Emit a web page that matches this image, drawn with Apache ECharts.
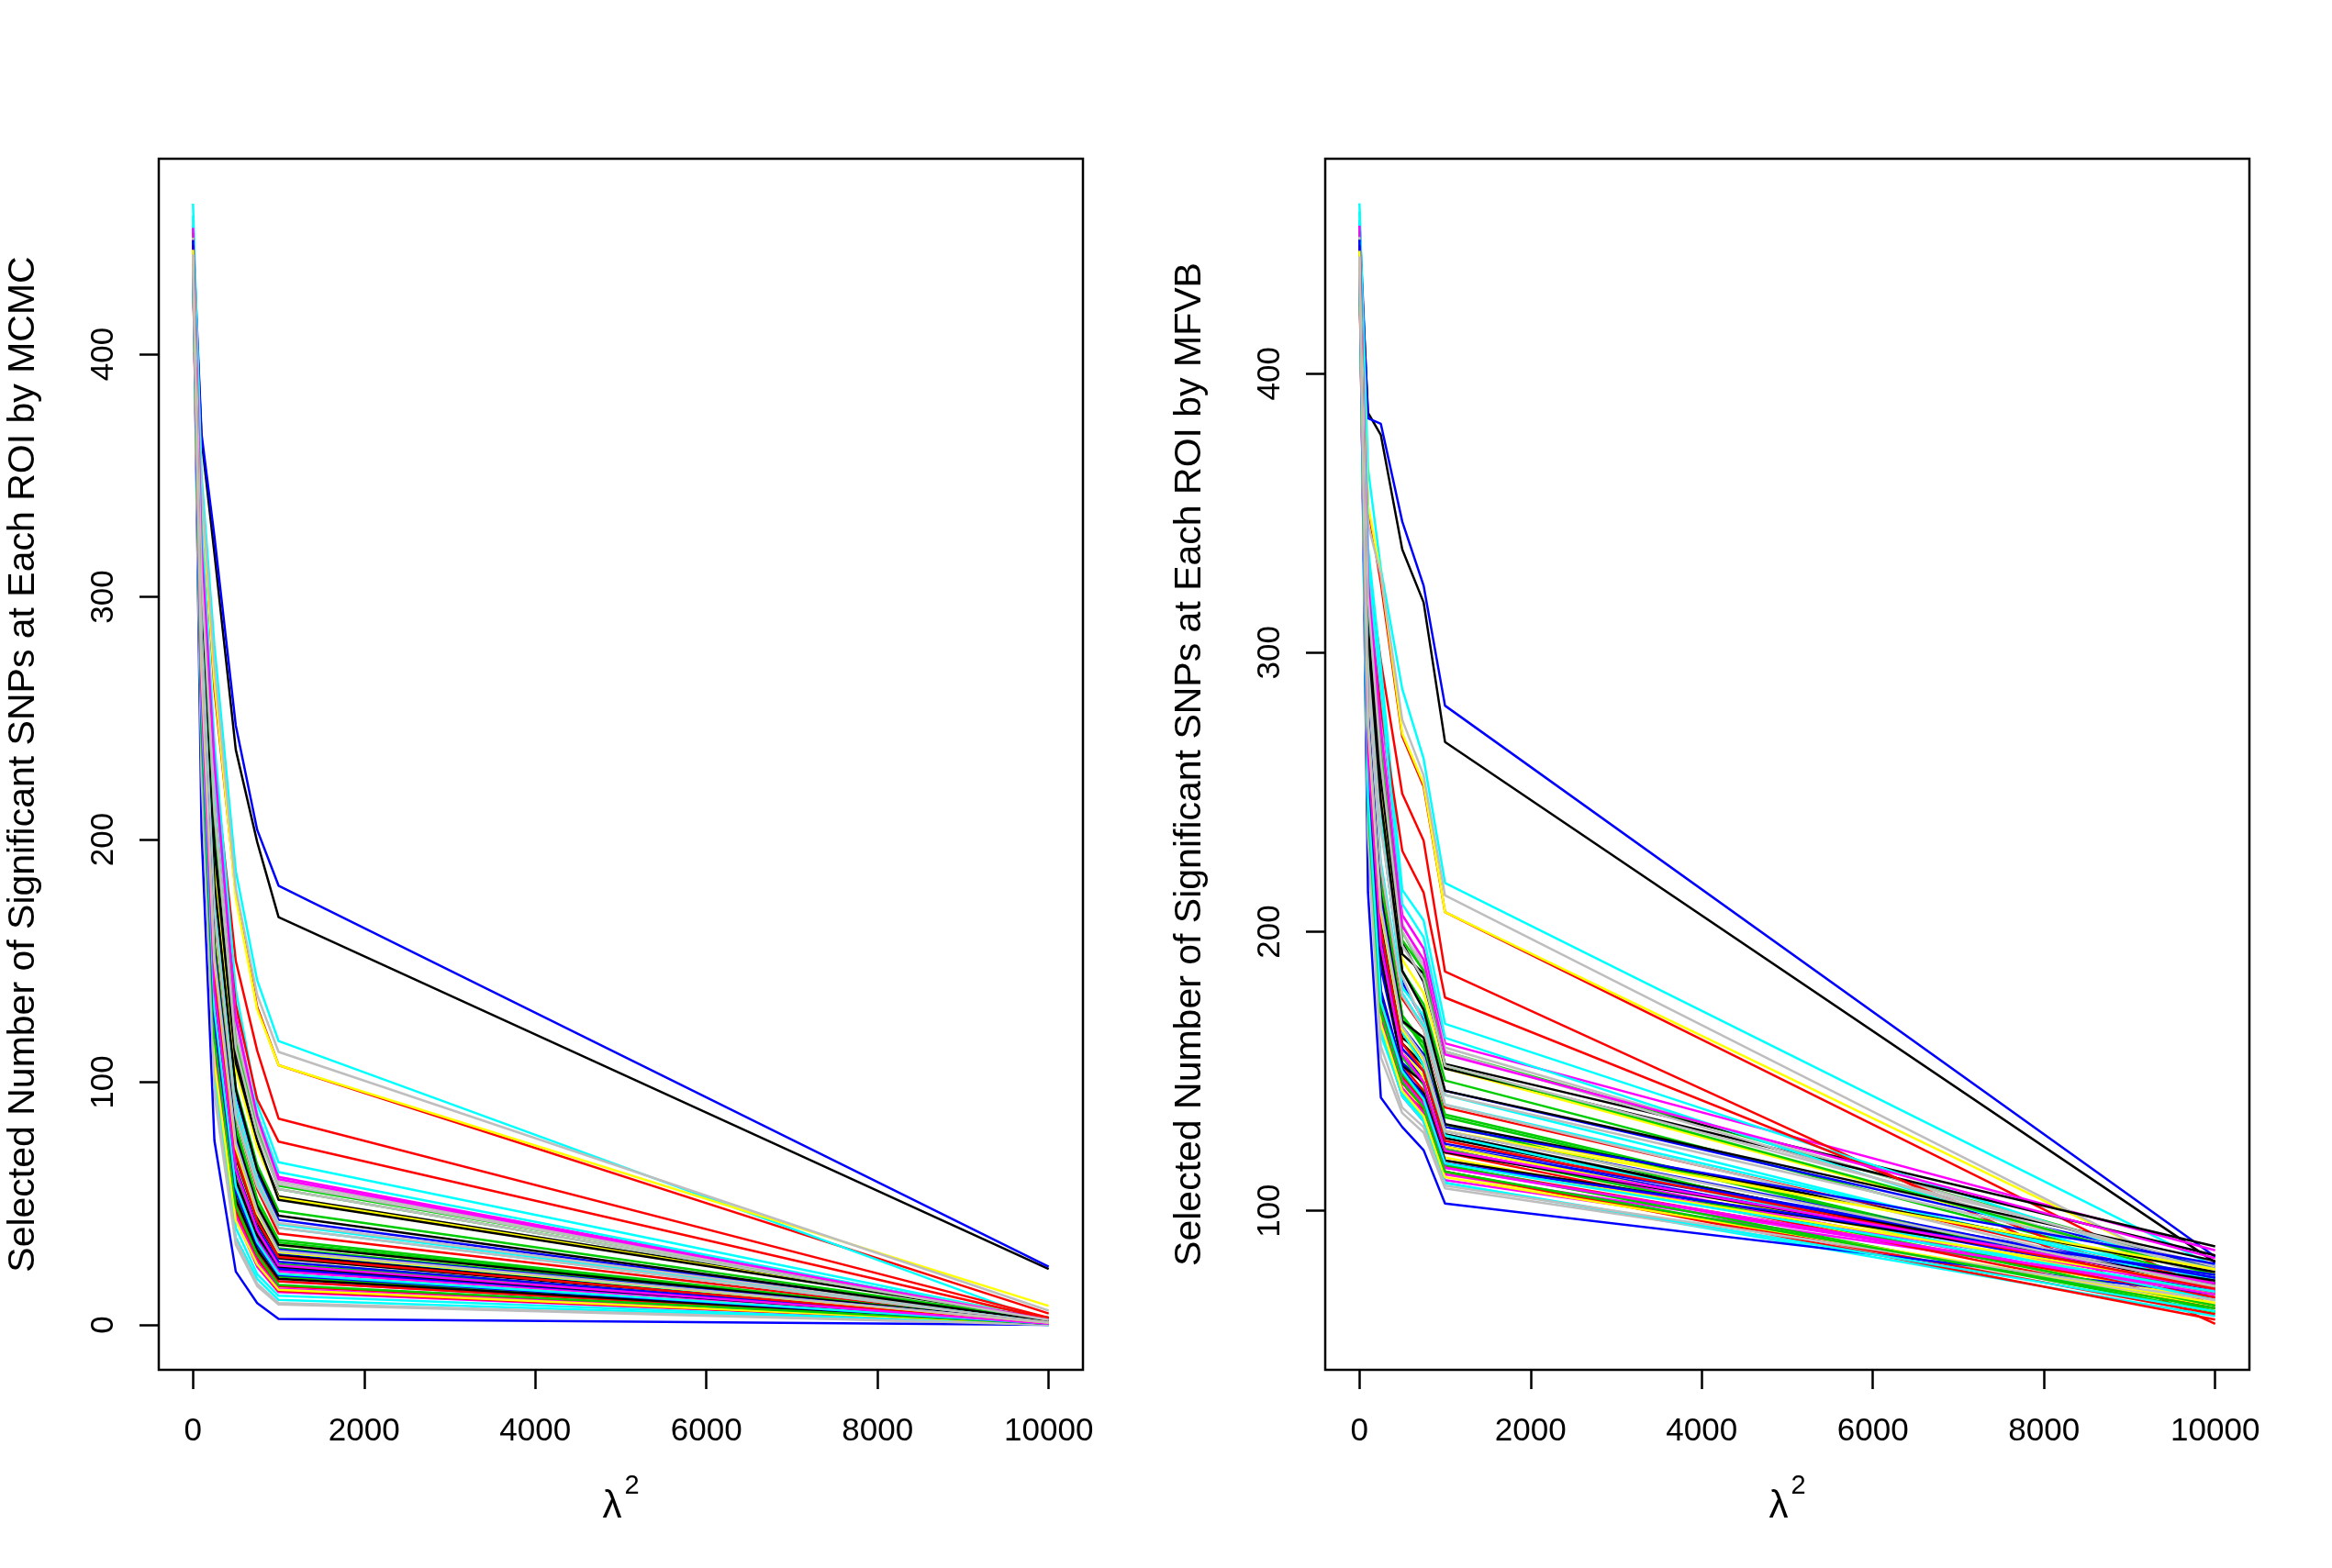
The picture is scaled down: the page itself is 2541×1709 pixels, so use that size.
<!DOCTYPE html>
<html>
<head>
<meta charset="utf-8">
<title>Selected SNPs by ROI</title>
<script src="https://cdn.jsdelivr.net/npm/echarts@6/dist/echarts.min.js"></script>
<style>
html, body { margin: 0; padding: 0; background: #fff; }
#main { width: 2541px; height: 1709px; }
</style>
</head>
<body>
<div id="main"></div>
<script>
// lambda^2 values the selection was run at
const lambda2 = [0, 100, 250, 500, 750, 1000, 10000];
const xTicks = [0, 2000, 4000, 6000, 8000, 10000];
const mcmcTicks = [0, 100, 200, 300, 400];
const mfvbTicks = [100, 200, 300, 400];
// R palette(), recycled over the ROIs
const roiColors = ['#000000', '#FF0000', '#00CD00', '#0000FF', '#00FFFF', '#FF00FF', '#FFFF00', '#BEBEBE'];

// one row per ROI: selected SNP count at each lambda2
const mcmcCounts = [
  [446, 365, 318, 237, 199, 168, 23],
  [445, 342, 262, 178, 131, 107, 4.7],
  [452, 310, 205, 120, 81, 57.4, 3],
  [450, 367, 325, 247, 204, 181, 24],
  [462, 350, 280, 187, 142, 117, 1],
  [448, 318, 228, 128, 85, 61, 2],
  [448, 340, 265, 176, 130, 107, 7.8],
  [455, 345, 272, 180, 136, 112.5, 5.9],

  [440, 305, 198, 112, 74, 53, 3],
  [440, 322, 232, 150, 113, 85, 3],
  [437, 296, 186, 98, 66, 47, 2],
  [443, 290, 178, 96, 62, 43.3, 1.5],
  [457, 330, 240, 138, 91, 67, 2],
  [444, 268, 150, 66, 40, 25, 1],
  [446, 300, 190, 105, 73, 52.4, 2.5],
  [450, 315, 222, 121, 84, 59, 2.5],

  [434, 298, 196, 108, 76, 51.5, 2.5],
  [436, 310, 215, 132, 93, 75.5, 2.5],
  [441, 282, 165, 82, 52, 35, 1],
  [446, 262, 140, 70, 45, 29.3, 1],
  [453, 322, 226, 126, 87, 63, 1.5],
  [439, 252, 122, 52, 30, 18, 0.5],
  [442, 272, 160, 78, 48, 33, 1],
  [449, 312, 215, 118, 82, 58, 2],

  [438, 270, 148, 72, 44, 28.7, 0.5],
  [446, 288, 170, 86, 56, 37.6, 1],
  [435, 266, 152, 75, 46, 31.6, 1],
  [440, 255, 130, 58, 36, 23.6, 0.5],
  [451, 292, 178, 92, 61, 41.4, 1],
  [437, 240, 112, 44, 24, 13.5, 0.5],
  [443, 248, 120, 50, 32, 19.5, 0.5],
  [447, 290, 172, 90, 60, 42, 1.5],

  [441, 262, 142, 68, 42, 27.4, 0.5],
  [438, 250, 130, 58, 35, 22.4, 0.5],
  [450, 306, 210, 116, 80, 56, 2],
  [436, 246, 126, 56, 35, 23, 0.5],
  [440, 232, 100, 36, 19, 10.3, 0],
  [452, 320, 232, 126, 86, 60, 2],
  [439, 244, 118, 48, 28, 16, 0.5],
  [442, 228, 95, 33, 16, 8.4, 0],

  [447, 294, 182, 97, 64, 45, 1.5],
  [434, 236, 110, 44, 25, 14, 0.5],
  [440, 276, 158, 80, 50, 34, 1],
  [445, 203, 76, 22, 9, 2.5, 0],
  [444, 286, 172, 88, 58, 40, 1],
  [441, 256, 132, 60, 35, 22, 0.5],
  [437, 262, 140, 66, 40, 26, 0.5],
  [448, 308, 212, 114, 79, 56, 2],

  [443, 274, 156, 78, 49, 33, 1],
  [440, 245, 122, 51, 30, 18, 0.5],
  [438, 258, 136, 63, 38, 25, 0.5],
  [442, 265, 140, 65, 40, 26, 0.5],
  [446, 270, 150, 74, 46, 30, 0.5],
  [436, 242, 116, 47, 28, 16, 0.5],
  [444, 252, 128, 56, 33, 21, 0.5],
  [445, 284, 170, 86, 57, 40, 1],

  [437, 256, 132, 60, 37, 24, 0.5],
  [443, 240, 114, 47, 27, 16, 0.5],
  [441, 250, 126, 54, 32, 20, 0.5],
  [439, 272, 154, 76, 47, 31, 1],
  [438, 234, 104, 40, 21, 12, 0],
  [445, 238, 112, 45, 26, 15, 0.5],
  [440, 236, 108, 43, 25, 14.5, 0.5],
  [436, 226, 98, 35, 17, 9, 0],

  [442, 248, 124, 52, 31, 19, 0.5],
  [445, 268, 146, 70, 43, 28, 0.5],
  [439, 244, 118, 49, 29, 16.5, 0.5],
  [447, 252, 126, 55, 33, 20.5, 0.5],
  [436, 254, 130, 57, 34, 21, 0.5],
  [440, 260, 138, 64, 39, 24.5, 0.5],
  [443, 270, 150, 73, 46, 30, 1],
  [441, 274, 152, 75, 47, 30.5, 1]
];

const mfvbCounts = [
  [450, 386, 378, 337, 318, 268, 81.5],
  [446, 352, 325, 270, 252, 207, 70],
  [447, 322, 271, 200, 186, 157, 79],
  [455, 384, 382, 347, 324, 281, 83.5],
  [461, 366, 330, 287, 262, 217.5, 80],
  [452, 328, 277, 206, 194, 160, 85.8],
  [448, 353, 328, 271, 253, 207, 74],
  [452, 346, 328, 276, 256, 213, 73.5],

  [444, 316, 263, 196, 182, 152.6, 87.2],
  [444, 330, 297, 249.5, 232.6, 185.7, 59.5],
  [440, 300, 245, 186, 174, 146.7, 75],
  [446, 298, 239, 182, 168, 143, 80],
  [458, 338, 295, 215, 204, 167, 76],
  [443, 264, 195, 158, 146, 122, 68],
  [449, 308, 253, 190, 178, 151, 77],
  [451, 330, 275, 203, 188, 158.5, 78],

  [437, 313, 255, 192, 185, 151, 84],
  [440, 320, 280, 229, 214, 176.4, 66],
  [441, 282, 220, 170, 158, 134.5, 70],
  [448, 268, 201, 165, 152, 128.6, 74],
  [455, 332, 287, 210, 198, 162, 72],
  [442, 246, 173, 146, 136, 115.4, 69],
  [444, 276, 211, 164, 150, 130, 78],
  [450, 326, 269, 200, 187, 157, 76],

  [439, 272, 205, 162, 156, 127.4, 71],
  [447, 286, 223, 176, 165, 137, 74],
  [436, 270, 210, 168, 160, 131, 64],
  [441, 260, 191, 155, 148, 123, 72],
  [452, 302, 240, 180, 170, 141.5, 73],
  [438, 238, 165, 141, 132, 111, 71],
  [444, 248, 175, 150, 140, 119, 68],
  [448, 296, 237, 184, 167, 141.5, 79],

  [442, 270, 199, 160, 152, 126, 73],
  [439, 262, 191, 152, 143, 120.8, 65],
  [451, 318, 265, 197, 186, 152, 77],
  [437, 258, 187, 153, 146, 123, 76],
  [441, 236, 163, 142, 133, 110, 62.2],
  [453, 326, 273, 202, 190, 156, 83],
  [440, 242, 169, 144, 137, 113, 66],
  [443, 232, 155, 135, 128, 108, 67],

  [448, 306, 247, 186, 172, 143, 82],
  [435, 240, 167, 143, 136, 114, 63],
  [441, 274, 215, 170, 160, 133.5, 70],
  [446, 214, 140.6, 130, 121.7, 102.6, 70],
  [445, 288, 225, 178, 166, 138, 75],
  [442, 246, 177, 150, 140, 118, 72],
  [438, 266, 197, 158, 148, 123, 70],
  [449, 320, 261, 195, 183, 152, 80],

  [444, 278, 213, 168, 162, 131, 78],
  [441, 244, 173, 148, 139, 116, 69],
  [439, 264, 193, 155, 145, 122, 66],
  [443, 268, 199, 158, 150, 124, 76],
  [447, 276, 207, 164, 152, 127, 68],
  [437, 242, 169, 144, 135, 113, 71],
  [445, 250, 179, 151, 141, 117, 73],
  [446, 290, 223, 177, 165, 138, 72],

  [438, 262, 191, 152, 146, 121, 74],
  [444, 246, 171, 146, 137, 114, 61],
  [442, 248, 175, 149, 140, 116.4, 63.8],
  [440, 278, 211, 166, 156, 130, 81],
  [439, 238, 165, 141, 132, 110, 64],
  [446, 244, 171, 147, 138, 115.4, 70],
  [441, 240, 167, 143, 134, 112, 67],
  [437, 234, 159, 137, 130, 109, 68],

  [443, 250, 177, 150, 142, 118, 75],
  [446, 270, 201, 160, 150, 125, 72],
  [440, 244, 171, 146, 137, 114, 65],
  [448, 250, 179, 151, 141, 117, 77],
  [437, 248, 175, 150, 140, 117, 71],
  [441, 264, 195, 156, 146, 121.5, 74],
  [444, 274, 207, 165, 154, 128.6, 79],
  [442, 276, 209, 166, 155, 128.6, 73]
];

const font = '"Liberation Sans", Arial, Helvetica, sans-serif';
const tickStyle = { color: '#000', width: 2.5 };

function plainNumber(v) {
  return String(v);
}

function roiSeries(rows, idx) {
  return rows.map(function (row, i) {
    return {
      type: 'line',
      xAxisIndex: idx,
      yAxisIndex: idx,
      data: lambda2.map(function (x, j) { return [x, row[j]]; }),
      symbol: 'none',
      silent: true,
      lineStyle: { color: roiColors[i % roiColors.length], width: 2.5 }
    };
  });
}

function xAxisFor(idx) {
  return {
    type: 'value', gridIndex: idx, min: -400, max: 10400,
    axisLine: { show: false, onZero: false },
    splitLine: { show: false },
    axisTick: { show: true, customValues: xTicks, length: 21, lineStyle: tickStyle },
    axisLabel: { customValues: xTicks, formatter: plainNumber, margin: 50, fontSize: 35, color: '#000', fontFamily: font },
    name: '{l|λ}{s|2}',
    nameLocation: 'middle',
    nameGap: 112,
    nameTextStyle: {
      fontFamily: font, color: '#000',
      rich: {
        l: { fontSize: 42, fontFamily: font, color: '#000', lineHeight: 58, verticalAlign: 'bottom' },
        s: { fontSize: 29, fontFamily: font, color: '#000', lineHeight: 29, verticalAlign: 'top', padding: [0, 0, 0, 3] }
      }
    }
  };
}

function yAxisFor(idx, min, max, ticks, title) {
  return {
    type: 'value', gridIndex: idx, min: min, max: max,
    axisLine: { show: false, onZero: false },
    splitLine: { show: false },
    axisTick: { show: true, customValues: ticks, length: 21, lineStyle: tickStyle },
    axisLabel: { customValues: ticks, formatter: plainNumber, rotate: 90, margin: 42, fontSize: 35, color: '#000', fontFamily: font },
    name: title,
    nameLocation: 'middle',
    nameRotate: 90,
    nameGap: 127,
    nameTextStyle: { fontSize: 41, color: '#000', fontFamily: font }
  };
}

const gridBox = { show: true, borderColor: '#000', borderWidth: 2.5, backgroundColor: 'transparent', top: 173, height: 1320, width: 1007, containLabel: false, outerBoundsMode: 'none' };

let myChart = echarts.init(document.getElementById('main'));
let option = {
  backgroundColor: '#fff',
  animation: false,
  grid: [
    Object.assign({ left: 173 }, gridBox),
    Object.assign({ left: 1444 }, gridBox)
  ],
  xAxis: [xAxisFor(0), xAxisFor(1)],
  yAxis: [
    yAxisFor(0, -18.5, 480.5, mcmcTicks, 'Selected Number of Significant SNPs at Each ROI by MCMC'),
    yAxisFor(1, 43, 477, mfvbTicks, 'Selected Number of Significant SNPs at Each ROI by MFVB')
  ],
  series: roiSeries(mcmcCounts, 0).concat(roiSeries(mfvbCounts, 1))
};
myChart.setOption(option, true);
</script>
</body>
</html>
